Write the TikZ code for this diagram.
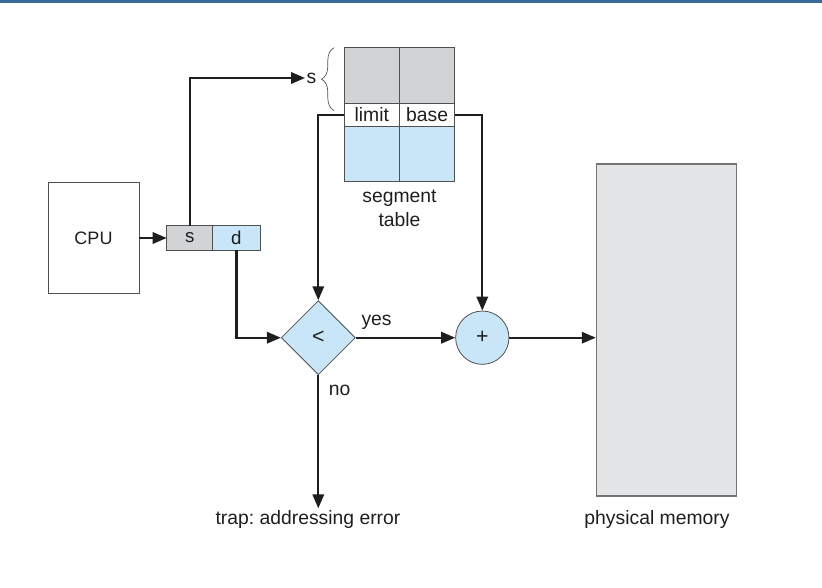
\documentclass[tikz,border=0pt]{standalone}
\usepackage{fontspec}
\setmainfont{Liberation Sans}
\usetikzlibrary{positioning, shapes.geometric, arrows.meta, decorations.pathreplacing}
\frenchspacing

\definecolor{topbar}{RGB}{58,106,154}
\definecolor{cellgray}{RGB}{209,211,213}
\definecolor{cellblue}{RGB}{200,230,247}
\definecolor{memgray}{RGB}{228,229,231}
\definecolor{edgegray}{RGB}{80,80,80}
\definecolor{inkblack}{RGB}{30,30,30}

\begin{document}
\begin{tikzpicture}[
    x=0.75pt, y=-0.75pt,
    font=\fontsize{14.5}{17.5}\selectfont,
    text=inkblack,
    box/.style={rectangle, draw=edgegray, line width=0.6pt, inner sep=0pt, outer sep=0pt},
    cell/.style={box, minimum width=41.5pt},
    regcell/.style={box, minimum height=18.2pt, font=\fontsize{14}{16}\selectfont},
    opnode/.style={draw=edgegray, fill=cellblue, line width=0.6pt, inner sep=0pt, font=\fontsize{16}{18}\selectfont},
    flow/.style={-{Triangle[length=10.5pt, width=8.5pt]}, line width=1.7pt, draw=inkblack},
    tag/.style={inner sep=2pt}
]
\useasboundingbox (0,0) rectangle (822,588);
\fill[topbar] (0,0) rectangle (822,3);

% CPU and logical address
\node[box, minimum width=68.25pt, minimum height=83.25pt, font=\fontsize{13.5}{16}\selectfont] (cpu) at (93.5,238) {CPU};
\node[regcell, fill=cellgray, minimum width=34.5pt] (sreg) at (189.7,238) {s};
\node[regcell, fill=cellblue, minimum width=35.5pt, right=0pt of sreg] (dreg) {d};

% Segment table
\node[cell, minimum height=17.25pt, fill=white] (limit) at (371.8,114.8) {limit};
\node[cell, minimum height=17.25pt, fill=white, right=0pt of limit] (base) {base};
\node[cell, minimum height=41.7pt, fill=cellgray, above=0pt of limit] (gl) {};
\node[cell, minimum height=41.7pt, fill=cellgray, above=0pt of base] (gr) {};
\node[cell, minimum height=41.5pt, fill=cellblue, below=0pt of limit] (bl) {};
\node[cell, minimum height=41.5pt, fill=cellblue, below=0pt of base] (br) {};
\node[align=center, below=3pt of bl.south east] (seglabel) {segment\\table};

% Segment index with brace
\draw[edgegray, line width=0.5pt, decorate, decoration={brace, amplitude=9.5pt}]
    ([xshift=-7.5pt, yshift=-5.5pt]gl.south west) -- ([xshift=-7.5pt]gl.north west);
\node[inner sep=1pt] (sidx) at (311.5,78) {s};

% Check and add
\node[opnode, diamond, aspect=1, minimum width=55.5pt, minimum height=55.5pt] (lt) at (318.3,337.7) {<};
\node[opnode, circle, minimum size=40pt] (add) at (482.3,337.7) {+};

% Physical memory
\node[rectangle, draw=edgegray!80, fill=memgray, line width=0.8pt, minimum width=105.3pt, minimum height=249pt] (mem) at (666.5,330) {};
\node[anchor=base, inner sep=1pt] (memlabel) at (657,524) {physical memory};
\node[anchor=base, inner sep=1pt] (trap) at (308,524) {trap: addressing error};

% Connectors
\draw[flow] (cpu.east) -- (sreg.west);
\draw[flow] (sreg.north) |- (sidx.west);
\draw[flow] (limit.west) -| (lt.north);
\draw[flow] (base.east) -| (add.north);
\draw[flow] (dreg.south) |- (lt.west);
\draw[flow] (lt.east) -- node[tag, pos=0, anchor=south west, xshift=1.5pt, yshift=3pt] {yes} (add.west);
\draw[flow] (lt.south) -- node[tag, pos=0, anchor=north west, xshift=5pt, yshift=-5pt] {no} (lt.south |- trap.north);
\draw[flow] (add.east) -- (add.east -| mem.west);

\end{tikzpicture}
\end{document}
